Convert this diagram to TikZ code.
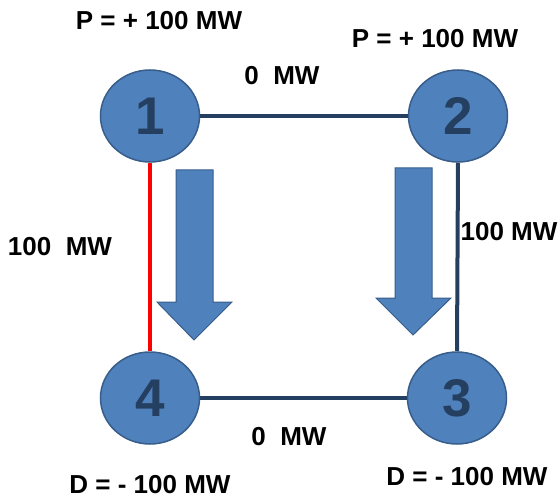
\documentclass[tikz,border=0pt]{standalone}
\usepackage{fontspec}
\setmainfont{Liberation Sans}
\usepackage{tikz}
\usetikzlibrary{positioning,calc,shapes.geometric}
\definecolor{busfill}{HTML}{4F81BD}
\definecolor{busedge}{HTML}{385D8A}
\definecolor{linenavy}{HTML}{243F60}
\tikzset{
  bus/.style={ellipse, fill=busfill, draw=busedge, line width=1.5pt,
    minimum width=99pt, minimum height=92pt, inner sep=0pt,
    text=linenavy, font=\fontsize{53}{60}\selectfont\bfseries},
  lbl/.style={inner sep=0pt, font=\fontsize{26}{30}\selectfont\bfseries},
  tie/.style={linenavy, line width=4pt},
  flowarrow/.style={fill=busfill, draw=busedge, line width=1pt, line join=miter}
}
\newcommand{\bnode}[3]{\node [bus] (#1) at (#2) {#3}}
\newcommand{\tnode}[3]{\node [lbl] (#1) at (#2) {#3}}

\begin{document}
\begin{tikzpicture}[x=1pt,y=1pt]
\useasboundingbox (0,0) rectangle (560,499);

\draw[flowarrow] (176,329) -- (213,329) -- (213,197) -- (232,197) -- (194,159)
  -- (157,197) -- (176,197) -- cycle;
\draw[flowarrow] (395,331) -- (432,331) -- (432,201) -- (451,201) -- (413,164)
  -- (376,201) -- (395,201) -- cycle;

\bnode{B1}{150,383}{1};
\bnode{B2}{458,383}{2};
\bnode{B3}{457,101}{3};
\bnode{B4}{150,101}{4};

\draw[tie] (B1.east) -- (B2.west);
\draw[tie] (B2.south) -- (B3.north);
\draw[tie] (B4.east) -- (B3.west);
\draw[red, line width=4pt] (B1.south) -- (B4.north);

\tnode{P1}{159,478}{P = + 100 MW};
\tnode{P2}{435,460}{P = + 100 MW};
\tnode{F12}{282,423}{0\ \ MW};
\tnode{F14}{60,252}{100\ \ MW};
\tnode{F23}{509,267}{100 MW};
\tnode{F34}{289,62}{0\ \ MW};
\tnode{D4}{150,14}{D = - 100 MW};
\tnode{D3}{467,22}{D = - 100 MW};

\end{tikzpicture}
\end{document}
